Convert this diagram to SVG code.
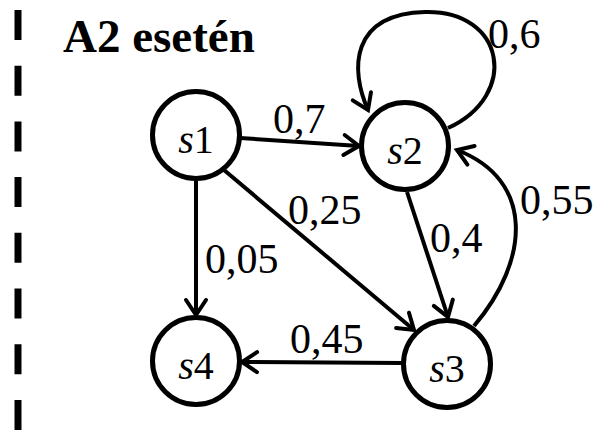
<svg xmlns="http://www.w3.org/2000/svg" width="593" height="432" viewBox="0 0 593 432">
<style>
.node circle{fill:#fff;stroke:#000;stroke-width:5}
.ser{font-family:"Liberation Serif","Times New Roman",Times,"DejaVu Serif",serif}
.nt{font-size:40px;text-anchor:middle}
.lbl{font-size:42px}
.edge{fill:none;stroke:#000;stroke-width:4;marker-end:url(#arr)}
</style>
<defs>
<marker id="arr" markerUnits="userSpaceOnUse" markerWidth="30" markerHeight="30" viewBox="-20 -15 30 30" refX="0" refY="0" orient="auto" overflow="visible">
<path d="M-15,-10 L0,0 L-15,10" fill="none" stroke="#000" stroke-width="4" stroke-linecap="round" stroke-linejoin="miter"/>
</marker>
</defs>
<line x1="18" y1="10" x2="18" y2="432" stroke="#000" stroke-width="7" stroke-dasharray="30 25.7"/>
<text class="ser" x="63" y="52" font-size="47" font-weight="bold">A2 esetén</text>
<g id="edges">
<path class="edge" d="M240,138 L359,146"/>
<path class="edge" d="M196,181 L196,315"/>
<path class="edge" d="M224,170 L414,330"/>
<path class="edge" d="M407,192 L448,317"/>
<path class="edge" d="M402,363 L242,362"/>
<path class="edge" d="M474,326 C530,260 535,180 457,150"/>
<path class="edge" d="M448,128 C520,95 505,10 425,12 C350,14 350,70 368,110"/>
</g>
<g id="labels">
<text class="ser lbl" x="273" y="133">0,7</text>
<text class="ser lbl" x="488" y="48">0,6</text>
<text class="ser lbl" x="520" y="214">0,55</text>
<text class="ser lbl" x="288" y="224">0,25</text>
<text class="ser lbl" x="430" y="252">0,4</text>
<text class="ser lbl" x="205" y="273">0,05</text>
<text class="ser lbl" x="290" y="353">0,45</text>
</g>
<g id="s1" class="node"><circle cx="196" cy="135" r="43.5"/><text class="ser nt" x="196" y="153"><tspan font-style="italic">s</tspan>1</text></g>
<g id="s2" class="node"><circle cx="405" cy="146" r="43.5"/><text class="ser nt" x="405" y="164"><tspan font-style="italic">s</tspan>2</text></g>
<g id="s3" class="node"><circle cx="447" cy="364" r="43.5"/><text class="ser nt" x="447" y="382"><tspan font-style="italic">s</tspan>3</text></g>
<g id="s4" class="node"><circle cx="196" cy="361" r="43.5"/><text class="ser nt" x="196" y="379"><tspan font-style="italic">s</tspan>4</text></g>
</svg>
